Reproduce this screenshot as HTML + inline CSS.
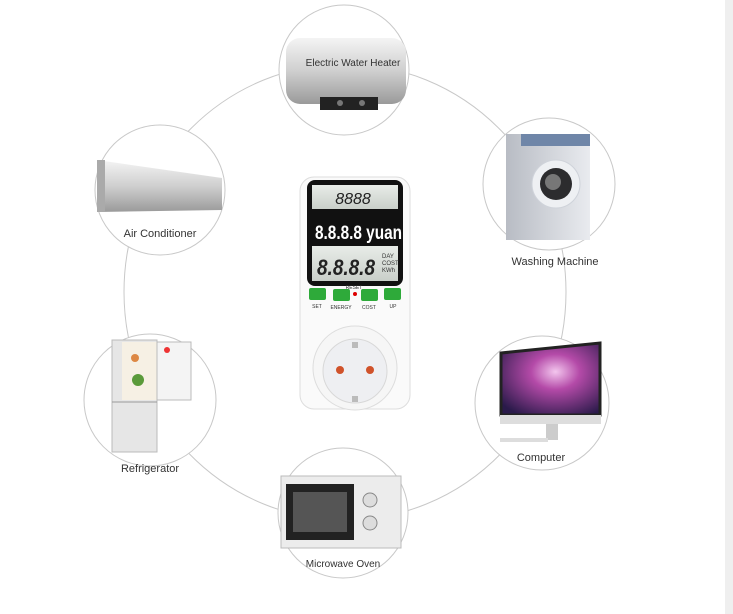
<!DOCTYPE html>
<html><head><style>
html,body{margin:0;padding:0;background:#fff;}
svg{display:block;}
text{font-family:"Liberation Sans",sans-serif;}
</style></head><body>
<svg width="733" height="614" viewBox="0 0 733 614" xmlns="http://www.w3.org/2000/svg">
<defs>
<linearGradient id="metal" x1="0" y1="0" x2="0" y2="1"><stop offset="0" stop-color="#f4f4f4"/><stop offset="0.5" stop-color="#cfcfcf"/><stop offset="1" stop-color="#9a9a9a"/></linearGradient>
<linearGradient id="wm" x1="0" y1="0" x2="1" y2="0"><stop offset="0" stop-color="#b8bcc4"/><stop offset="1" stop-color="#e9ebef"/></linearGradient>
<radialGradient id="scr" cx="0.55" cy="0.4" r="0.7"><stop offset="0" stop-color="#f3c6ee"/><stop offset="0.35" stop-color="#b44aa8"/><stop offset="1" stop-color="#2a1a4a"/></radialGradient>
<linearGradient id="lcd" x1="0" y1="0" x2="0" y2="1"><stop offset="0" stop-color="#e8ece8"/><stop offset="1" stop-color="#c9cfc9"/></linearGradient>
</defs>
<rect x="725" y="0" width="8" height="614" fill="#efefef"/>
<ellipse cx="345" cy="292" rx="221" ry="228" fill="none" stroke="#c8c8c8" stroke-width="1"/>

<circle cx="344" cy="70" r="65" fill="#fff" stroke="#c8c8c8"/>
<rect x="286" y="38" width="120" height="66" rx="14" fill="url(#metal)"/>
<rect x="320" y="97" width="58" height="13" fill="#222"/>
<circle cx="340" cy="103" r="3" fill="#777"/><circle cx="362" cy="103" r="3" fill="#777"/>
<text x="353" y="66" font-size="10" text-anchor="middle" fill="#333">Electric Water Heater</text>

<circle cx="160" cy="190" r="65" fill="#fff" stroke="#c8c8c8"/>
<path d="M97 160 L222 178 L222 210 L97 212 Z" fill="url(#metal)"/>
<rect x="97" y="160" width="8" height="52" fill="#aaa"/>
<text x="160" y="237" font-size="11" text-anchor="middle" fill="#333">Air Conditioner</text>

<circle cx="549" cy="184" r="66" fill="#fff" stroke="#c8c8c8"/>
<rect x="506" y="134" width="84" height="106" fill="url(#wm)"/>
<rect x="521" y="134" width="69" height="12" fill="#6f86a8"/>
<circle cx="556" cy="184" r="24" fill="#eef0f3" stroke="#cfd3da"/>
<circle cx="556" cy="184" r="16" fill="#2c2c2e"/>
<circle cx="553" cy="182" r="8" fill="#777"/>
<text x="555" y="265" font-size="11" text-anchor="middle" fill="#333">Washing Machine</text>

<circle cx="150" cy="400" r="66" fill="#fff" stroke="#c8c8c8"/>
<rect x="112" y="340" width="45" height="112" fill="#e6e6e6" stroke="#bbb"/>
<rect x="122" y="342" width="35" height="58" fill="#f6f0e4"/>
<rect x="157" y="342" width="34" height="58" fill="#f4f4f4" stroke="#bbb"/>
<line x1="112" y1="402" x2="157" y2="402" stroke="#999"/>
<circle cx="138" cy="380" r="6" fill="#5a9a3a"/><circle cx="135" cy="358" r="4" fill="#d84"/><circle cx="167" cy="350" r="3" fill="#e33"/>
<text x="150" y="472" font-size="11" text-anchor="middle" fill="#333">Refrigerator</text>

<circle cx="542" cy="403" r="67" fill="#fff" stroke="#c8c8c8"/>
<path d="M501 353 L600 343 L600 415 L501 415 Z" fill="url(#scr)" stroke="#222" stroke-width="3"/>
<rect x="500" y="415" width="101" height="9" fill="#ddd"/>
<rect x="546" y="424" width="12" height="16" fill="#ccc"/>
<rect x="500" y="438" width="48" height="4" fill="#ddd"/>
<text x="541" y="461" font-size="11" text-anchor="middle" fill="#333">Computer</text>

<circle cx="343" cy="513" r="65" fill="#fff" stroke="#c8c8c8"/>
<rect x="281" y="476" width="120" height="72" fill="#ececec" stroke="#bbb"/>
<rect x="286" y="484" width="68" height="56" fill="#222"/>
<rect x="293" y="492" width="54" height="40" fill="#555"/>
<circle cx="370" cy="500" r="7" fill="#ddd" stroke="#888"/><circle cx="370" cy="523" r="7" fill="#ddd" stroke="#888"/>
<text x="343" y="567" font-size="10" text-anchor="middle" fill="#333">Microwave Oven</text>

<!-- device -->
<rect x="300" y="177" width="110" height="232" rx="14" fill="#fafafa" stroke="#ddd"/>
<rect x="307" y="180" width="96" height="106" rx="8" fill="#111"/>
<rect x="312" y="185" width="86" height="24" fill="url(#lcd)"/>
<text x="353" y="204" font-size="16" text-anchor="middle" fill="#222" font-style="italic">8888</text>
<rect x="312" y="246" width="86" height="35" fill="url(#lcd)"/>
<text x="315" y="239" font-size="19" fill="#fff" font-weight="bold" textLength="87" lengthAdjust="spacingAndGlyphs">8.8.8.8 yuan</text>
<text x="346" y="275" font-size="22" text-anchor="middle" fill="#222" font-style="italic" font-weight="bold" textLength="58" lengthAdjust="spacingAndGlyphs">8.8.8.8</text>
<text x="382" y="258" font-size="6" fill="#333">DAY</text><text x="382" y="265" font-size="6" fill="#333">COST</text><text x="382" y="272" font-size="6" fill="#333">KWh</text>
<text x="354" y="289" font-size="5" text-anchor="middle" fill="#333">RESET</text>
<circle cx="355" cy="294" r="2" fill="#d00"/>
<rect x="309" y="288" width="17" height="12" rx="2" fill="#2eaa3a"/>
<rect x="333" y="289" width="17" height="12" rx="2" fill="#2eaa3a"/>
<rect x="361" y="289" width="17" height="12" rx="2" fill="#2eaa3a"/>
<rect x="384" y="288" width="17" height="12" rx="2" fill="#2eaa3a"/>
<text x="317" y="308" font-size="5" text-anchor="middle" fill="#333">SET</text>
<text x="341" y="309" font-size="5" text-anchor="middle" fill="#333">ENERGY</text>
<text x="369" y="309" font-size="5" text-anchor="middle" fill="#333">COST</text>
<text x="393" y="308" font-size="5" text-anchor="middle" fill="#333">UP</text>
<circle cx="355" cy="368" r="42" fill="#f6f6f6" stroke="#ddd"/>
<circle cx="355" cy="371" r="32" fill="#eeeff2" stroke="#d8d8d8"/>
<circle cx="340" cy="370" r="4" fill="#d0522a"/><circle cx="370" cy="370" r="4" fill="#d0522a"/>
<rect x="352" y="342" width="6" height="6" fill="#bbb"/><rect x="352" y="396" width="6" height="6" fill="#bbb"/>
</svg>
</body></html>
